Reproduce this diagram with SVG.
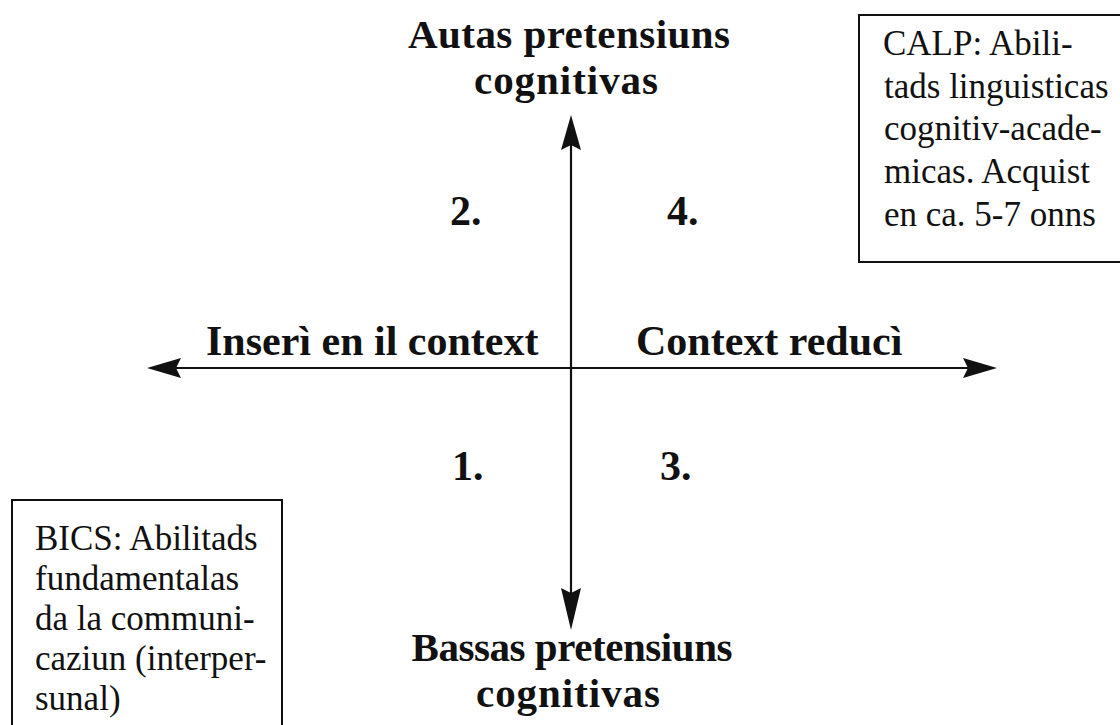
<svg xmlns="http://www.w3.org/2000/svg" width="1120" height="725" viewBox="0 0 1120 725">
<defs>
<style>
.t{font-family:"Liberation Serif","Times New Roman",serif;fill:#111}
.b{font-weight:bold;font-size:42px}
.h{font-weight:bold;font-size:41px}
.r{font-size:35px}
.box{fill:none;stroke:#111;stroke-width:2}
.ax{stroke:#111;stroke-width:2.2;fill:none}
.hd{fill:#111}
</style>
</defs>
<rect width="1120" height="725" fill="#fff"/>
<g id="axes">
<line class="ax" x1="175" y1="368" x2="968" y2="368"/>
<polygon class="hd" points="147,368 181,358 176,368 181,378"/>
<polygon class="hd" points="997,368 963,358 968,368 963,378"/>
<line class="ax" x1="571" y1="140" x2="571" y2="600"/>
<polygon class="hd" points="571,115 561,150 571,145 581,150"/>
<polygon class="hd" points="571,630 561,588 571,593 581,588"/>
</g>
<g id="top-label">
<text class="t h" x="569" y="48" text-anchor="middle" textLength="322">Autas pretensiuns</text>
<text class="t h" x="566" y="94" text-anchor="middle" textLength="184">cognitivas</text>
</g>
<g id="bottom-label">
<text class="t h" x="572" y="661" text-anchor="middle" textLength="321">Bassas pretensiuns</text>
<text class="t h" x="568" y="707" text-anchor="middle" textLength="184">cognitivas</text>
</g>
<g id="left-label">
<text class="t b" x="206" y="355">Inserì en il context</text>
</g>
<g id="right-label">
<text class="t b" x="636" y="355">Context reducì</text>
</g>
<g id="q2"><text class="t b" x="450" y="225">2.</text></g>
<g id="q4"><text class="t b" x="667" y="225">4.</text></g>
<g id="q1"><text class="t b" x="452" y="480">1.</text></g>
<g id="q3"><text class="t b" x="660" y="480">3.</text></g>
<g id="calp">
<rect class="box" x="859" y="15" width="280" height="247"/>
<text class="t r" x="883" y="55">CALP: Abili-</text>
<text class="t r" x="884" y="98">tads linguisticas</text>
<text class="t r" x="884" y="140">cognitiv-acade-</text>
<text class="t r" x="884" y="183">micas. Acquist</text>
<text class="t r" x="884" y="226">en ca. 5-7 onns</text>
</g>
<g id="bics">
<rect class="box" x="12" y="500" width="270" height="240"/>
<text class="t r" x="35" y="550">BICS: Abilitads</text>
<text class="t r" x="35" y="590">fundamentalas</text>
<text class="t r" x="35" y="630">da la communi-</text>
<text class="t r" x="35" y="670">caziun (interper-</text>
<text class="t r" x="35" y="710">sunal)</text>
</g>
</svg>
